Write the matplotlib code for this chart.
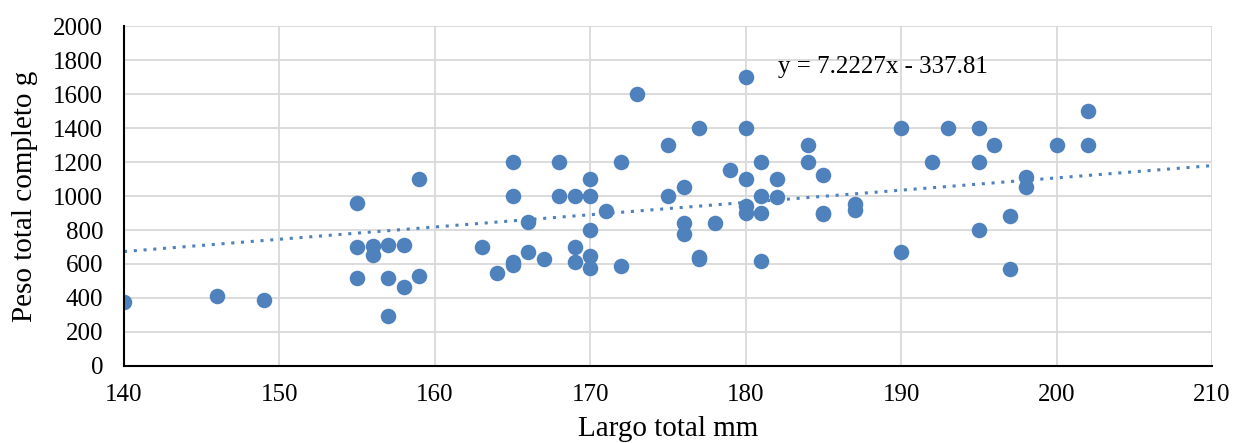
import matplotlib
matplotlib.use('agg')
import matplotlib.pyplot as plt
import numpy as np

# largo total (mm) vs peso total completo (g)
largo = [140, 146, 149,
         155, 155, 155, 156, 156, 157, 157, 157, 158, 158, 159, 159,
         163, 164, 165, 165, 165, 165, 166, 166, 167, 168, 168,
         169, 169, 169, 170, 170, 170, 170, 170, 171, 172, 172, 173,
         175, 175, 176, 176, 176, 177, 177, 177, 178, 179,
         180, 180, 180, 180, 180, 181, 181, 181, 181, 182, 182,
         184, 184, 185, 185, 185, 187, 187, 190, 190, 192, 193,
         195, 195, 195, 196, 197, 197, 198, 198, 200, 202, 202]
peso = [376, 412, 390,
        960, 700, 515, 705, 655, 710, 515, 292, 710, 463, 1100, 530,
        702, 548, 1200, 1000, 612, 596, 847, 672, 632, 1200, 1000,
        1000, 702, 612, 1100, 1000, 800, 648, 578, 912, 1200, 590, 1600,
        1302, 1000, 1052, 843, 776, 1400, 642, 628, 843, 1152,
        1700, 1400, 1100, 942, 898, 1200, 1000, 898, 617, 1100, 992,
        1302, 1202, 1123, 902, 893, 955, 920, 1400, 670, 1202, 1400,
        1400, 1202, 800, 1302, 882, 568, 1113, 1051, 1302, 1500, 1302]

slope = 7.2227
intercept = -337.81
x_ticks = [140, 150, 160, 170, 180, 190, 200, 210]
y_ticks = [0, 200, 400, 600, 800, 1000, 1200, 1400, 1600, 1800, 2000]

blue = '#4f81bd'

plt.rcParams['font.family'] = ['Liberation Serif', 'DejaVu Serif']

fig = plt.figure(figsize=(12.33, 4.43), dpi=100)
ax = fig.add_axes([0.1006, 0.174, 0.8824, 0.767])

ax.scatter(largo, peso, s=125, color=blue, zorder=3, linewidths=0)

# linea de tendencia
xt = np.array([140, 210])
ax.plot(xt, slope * xt + intercept, linestyle=(0, (1, 2.2)), color=blue,
        linewidth=2.2, zorder=2)
ax.text(182.1, 1760, f'y = {slope}x - {abs(intercept)}', fontsize=18,
        va='center', ha='left')

ax.set_xlim(140, 210)
ax.set_ylim(0, 2000)
ax.set_xticks(x_ticks)
ax.set_yticks(y_ticks)
ax.tick_params(axis='both', length=0, labelsize=18)
ax.tick_params(axis='x', pad=13)
ax.tick_params(axis='y', pad=15)
ax.grid(True, color='#d9d9d9', linewidth=1.3, zorder=0)
ax.set_axisbelow(True)
for side in ['top', 'right']:
    ax.spines[side].set_visible(False)
for side in ['left', 'bottom']:
    ax.spines[side].set_linewidth(1.5)
    ax.spines[side].set_color('black')
    ax.spines[side].set_zorder(4)

ax.set_xlabel('Largo total mm', fontsize=21, labelpad=7)
ax.set_ylabel('Peso total completo g', fontsize=21, labelpad=11)

fig.savefig('out.png', dpi=100)
